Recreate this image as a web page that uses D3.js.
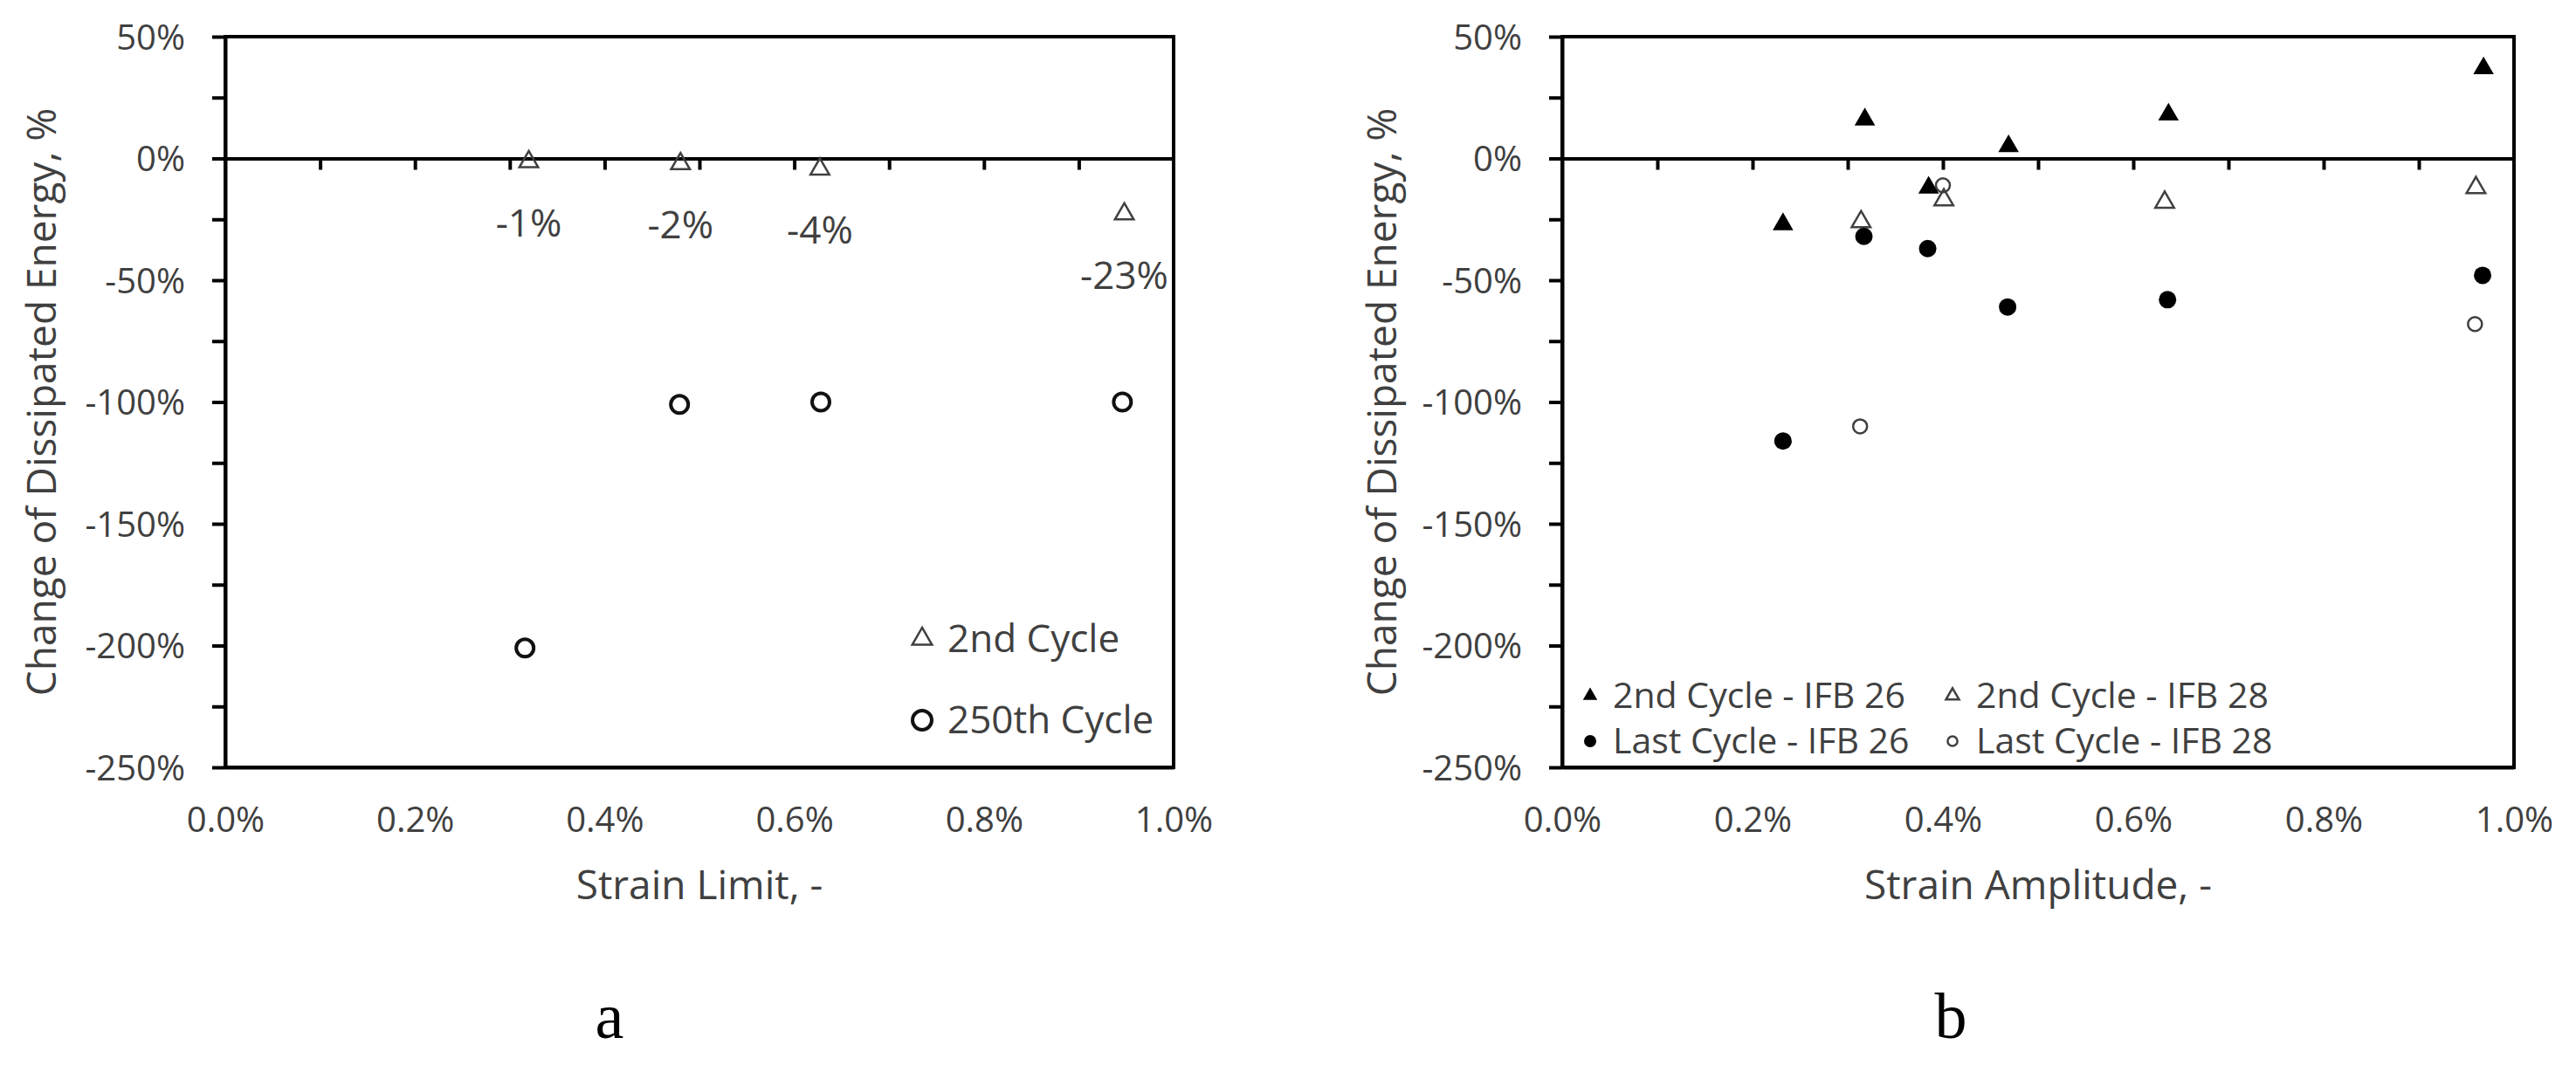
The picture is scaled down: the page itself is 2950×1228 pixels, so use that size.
<!DOCTYPE html>
<html><head><meta charset="utf-8">
<script src="https://cdn.jsdelivr.net/npm/d3@7"></script>
<style>
html,body{margin:0;padding:0;background:#fff}
svg{display:block;background:#fff}
text{font-family:'Open Sans',sans-serif;fill:#404040}
</style>
</head><body>
<svg id="chart" width="2950" height="1228"></svg>
<script>
// ---------- data ----------
const yTickValues = [-250,-225,-200,-175,-150,-125,-100,-75,-50,-25,0,25,50];
const xMinorTicks = [0.1,0.2,0.3,0.4,0.5,0.6,0.7,0.8,0.9];
const xLabelTicks = [0,0.2,0.4,0.6,0.8,1.0];

// Panel a
const strainA2nd   = [0.320, 0.480, 0.627, 0.948];
const changeA2nd   = [-1.4, -2.2, -4.4, -22.8];
const labelsA2nd   = ["-1%", "-2%", "-4%", "-23%"];
const strainA250   = [0.316, 0.479, 0.628, 0.946];
const changeA250   = [-201, -101, -100, -100];
const legendA      = ["2nd Cycle", "250th Cycle"];

// Panel b
const strainB2nd26  = [0.232, 0.318, 0.385, 0.469, 0.637, 0.968];
const changeB2nd26  = [-27, 16, -12, 5, 18, 37];
const strainB2nd28  = [0.314, 0.401, 0.633, 0.960];
const changeB2nd28  = [-26, -17, -18, -12];
const strainBLast26 = [0.232, 0.317, 0.384, 0.468, 0.636, 0.967];
const changeBLast26 = [-116, -32, -37, -61, -58, -48];
const strainBLast28 = [0.313, 0.400, 0.959];
const changeBLast28 = [-110, -11, -68];
const legendB      = ["2nd Cycle - IFB 26", "2nd Cycle - IFB 28", "Last Cycle - IFB 26", "Last Cycle - IFB 28"];

// ---------- drawing ----------
const svg = d3.select("#chart");
svg.append("rect").attr("width",2950).attr("height",1228).attr("fill","#fff");

const marker = {
  triOpenA:   {type:d3.symbolTriangle, size:200, fill:"none", stroke:"#404040", sw:2.5},
  circBoldA:  {type:d3.symbolCircle,  size:Math.PI*10*10, fill:"none", stroke:"#111", sw:4},
  triFilled:  {type:d3.symbolTriangle, size:240, fill:"#000", stroke:"none", sw:0},
  triOpenB:   {type:d3.symbolTriangle, size:200, fill:"none", stroke:"#404040", sw:2.5},
  circFilled: {type:d3.symbolCircle,  size:Math.PI*10*10, fill:"#000", stroke:"none", sw:0},
  circOpenB:  {type:d3.symbolCircle,  size:Math.PI*8*8, fill:"none", stroke:"#404040", sw:2.5}
};

function drawSymbol(g, m, x, y, scale=1){
  g.append("path")
    .attr("d", d3.symbol().type(m.type).size(m.size*scale*scale)())
    .attr("transform", `translate(${x},${y})`)
    .attr("fill", m.fill).attr("stroke", m.stroke).attr("stroke-width", m.sw);
}

function drawPanel(cfg){
  const g = svg.append("g");
  const x = d3.scaleLinear().domain([0,1.0]).range([cfg.left,cfg.right]);
  const y = d3.scaleLinear().domain([-250,50]).range([cfg.bottom,cfg.top]);

  // frame (top/right)
  g.append("rect").attr("x",cfg.left).attr("y",cfg.top)
    .attr("width",cfg.right-cfg.left).attr("height",cfg.bottom-cfg.top)
    .attr("fill","none").attr("stroke","#000").attr("stroke-width",4);

  // y axis
  const ya = g.append("g").attr("transform",`translate(${cfg.left},0)`)
    .call(d3.axisLeft(y).tickValues(yTickValues).tickSize(15).tickSizeOuter(0).tickPadding(31)
      .tickFormat(d => d % 50 === 0 ? d + "%" : ""));
  ya.selectAll("path,line").attr("stroke","#000").attr("stroke-width",4);
  ya.selectAll("text").attr("font-size",40).attr("font-family","'Open Sans',sans-serif").attr("fill","#404040").attr("dy","0.35em");

  // zero line with minor ticks
  const za = g.append("g").attr("transform",`translate(0,${y(0)})`)
    .call(d3.axisBottom(x).tickValues(xMinorTicks).tickSize(13).tickSizeOuter(0).tickFormat(""));
  za.selectAll("path,line").attr("stroke","#000").attr("stroke-width",4);

  // bottom labels
  const xa = g.append("g").attr("transform",`translate(0,${cfg.bottom})`)
    .call(d3.axisBottom(x).tickValues(xLabelTicks).tickSize(0).tickSizeOuter(0).tickPadding(46)
      .tickFormat(d => d.toFixed(1) + "%"));
  xa.selectAll("path").attr("stroke","#000").attr("stroke-width",4);
  xa.selectAll("text").attr("font-size",40).attr("font-family","'Open Sans',sans-serif").attr("fill","#404040");

  // titles
  g.append("text")
    .attr("transform",`translate(${cfg.left-cfg.yTitleOff},${(cfg.top+cfg.bottom)/2}) rotate(-90)`)
    .attr("text-anchor","middle").attr("dy","0.35em").attr("font-size",46)
    .text("Change of Dissipated Energy, %");
  g.append("text").attr("x",(cfg.left+cfg.right)/2).attr("y",1030)
    .attr("text-anchor","middle").attr("font-size",46).text(cfg.xTitle);
  g.append("text").attr("x",cfg.letterX).attr("y",1189)
    .attr("text-anchor","middle").attr("font-size",74)
    .style("font-family","'Liberation Serif',serif").style("fill","#000")
    .text(cfg.letter);

  return {g,x,y};
}

// Panel a
const A = drawPanel({left:258,right:1344,top:42,bottom:879,yTitleOff:210,xTitle:"Strain Limit, -",letter:"a",letterX:698});
strainA250.forEach((s,i)=>drawSymbol(A.g, marker.circBoldA, A.x(s), A.y(changeA250[i])));
strainA2nd.forEach((s,i)=>drawSymbol(A.g, marker.triOpenA, A.x(s), A.y(changeA2nd[i])));
strainA2nd.forEach((s,i)=>{
  A.g.append("text").attr("x",A.x(s)).attr("y",A.y(changeA2nd[i])+70)
    .attr("dy","0.35em").attr("text-anchor","middle").attr("font-size",44).text(labelsA2nd[i]);
});
// legend a
[[marker.triOpenA,732],[marker.circBoldA,825]].forEach(([m,cy],i)=>{
  drawSymbol(A.g, m, 1056, cy, i===0?1.05:1.1);
  A.g.append("text").attr("x",1085).attr("y",cy).attr("dy","0.35em").attr("font-size",44).text(legendA[i]);
});

// Panel b
const B = drawPanel({left:1789,right:2879,top:42,bottom:879,yTitleOff:206,xTitle:"Strain Amplitude, -",letter:"b",letterX:2234});
strainBLast28.forEach((s,i)=>drawSymbol(B.g, marker.circOpenB, B.x(s), B.y(changeBLast28[i])));
strainB2nd28.forEach((s,i)=>drawSymbol(B.g, marker.triOpenB, B.x(s), B.y(changeB2nd28[i])));
strainBLast26.forEach((s,i)=>drawSymbol(B.g, marker.circFilled, B.x(s), B.y(changeBLast26[i])));
strainB2nd26.forEach((s,i)=>drawSymbol(B.g, marker.triFilled, B.x(s), B.y(changeB2nd26[i])));
// legend b
const legBItems = [
  [marker.triFilled, 1821, 1847, 797],
  [marker.triOpenB, 2236, 2263, 797],
  [marker.circFilled, 1821, 1847, 849],
  [marker.circOpenB, 2236, 2263, 849]
];
legBItems.forEach(([m,mx,tx,cy],i)=>{
  drawSymbol(B.g, m, mx, cy, 0.7);
  B.g.append("text").attr("x",tx).attr("y",cy).attr("dy","0.35em").attr("font-size",41).text(legendB[i]);
});
</script>
</body></html>
